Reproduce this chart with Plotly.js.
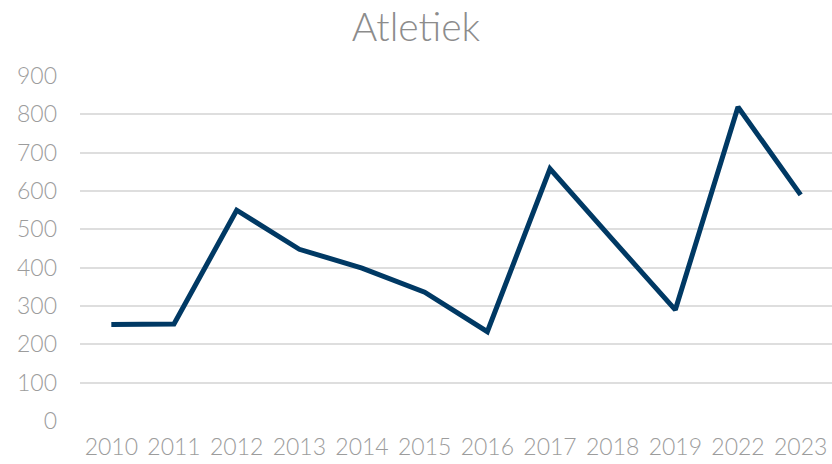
<!DOCTYPE html>
<html><head><meta charset="utf-8">
<script src="https://cdn.plot.ly/plotly-3.0.1.min.js"></script>
<style>html,body{margin:0;padding:0;background:#fff;}#chart{width:832px;height:464px;}</style>
</head><body><div id="chart"></div>
<script>
var years = ["2010","2011","2012","2013","2014","2015","2016","2017","2018","2019","2022","2023"];
var values = [252, 253, 550, 448, 399, 336, 233, 658, 473, 290, 819, 590];
var yTicks = [0,100,200,300,400,500,600,700,800,900];

var trace = {
  x: years, y: values, type: "scatter", mode: "lines",
  line: {color: "#003964", width: 5, shape: "linear"},
  hoverinfo: "skip"
};
var fam = "Lato, 'Open Sans', sans-serif";
var layout = {
  width: 832, height: 464,
  margin: {l: 80, r: 0, t: 76, b: 43},
  paper_bgcolor: "#fff", plot_bgcolor: "#fff",
  font: {family: fam, color: "#9c9c9c", size: 23, weight: 300},
  title: {text: "Atletiek", x: 0.5, xanchor: "center", y: 0.97, yanchor: "top",
          font: {size: 39, color: "#8c8c8c", family: fam, weight: 300}},
  showlegend: false,
  xaxis: {type: "category", range: [-0.5, 11.5], showgrid: false, zeroline: false, showline: false,
          ticks: "", ticklabelstandoff: 10, tickfont: {size: 23, color: "#9c9c9c", family: fam, weight: 300}},
  yaxis: {range: [0, 900], tickvals: yTicks, ticktext: yTicks.map(String),
          showgrid: true, gridcolor: "#dedede", gridwidth: 2, zeroline: false, showline: false,
          ticks: "", ticklabelstandoff: 22, tickfont: {size: 23, color: "#9c9c9c", family: fam, weight: 300}}
};
Plotly.newPlot("chart", [trace], layout, {displayModeBar: false, staticPlot: true});
</script></body></html>
